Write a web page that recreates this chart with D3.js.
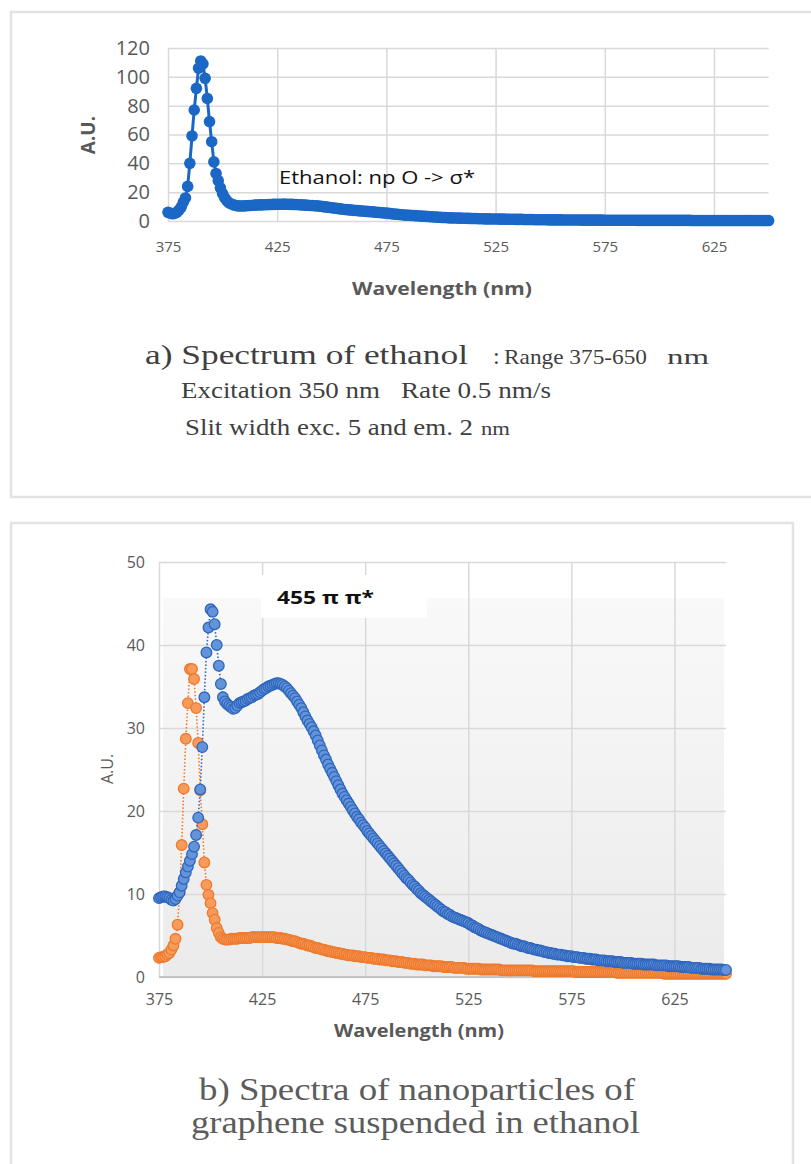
<!DOCTYPE html>
<html>
<head>
<meta charset="utf-8">
<script src="https://cdn.jsdelivr.net/npm/d3@7"></script>
<style>
  body { margin: 0; background: #fff; }
  svg { display: block; }
  .axis path { display: none; }
  .axis line { stroke: #d9d9d9; stroke-width: 1.5; }
  .axis text { font-family: "Open Sans", "DejaVu Sans", sans-serif; fill: #595959; }
</style>
</head>
<body>
<script>
// wavelength grid of the recorded spectra (1 nm step)
const wavelengths = d3.range(375, 651);

// a) ethanol, excitation 350 nm
const ethanolAU = [
  6.0, 5.5, 5.0, 5.2, 6.0, 7.5, 9.5, 13.0, 16.0, 24.0,
  40, 59, 77, 92, 106, 111, 109, 99, 85, 69,
  55, 41, 33, 28, 23, 19, 16, 14, 12.5, 11.8,
  11.2, 10.8, 10.5, 10.4, 10.4, 10.5, 10.6, 10.7, 10.8, 10.9,
  11.0, 11.1, 11.2, 11.2, 11.3, 11.3, 11.4, 11.4, 11.5, 11.5,
  11.6, 11.6, 11.6, 11.7, 11.6, 11.6, 11.5, 11.5, 11.4, 11.4,
  11.3, 11.2, 11.1, 11.0, 10.9, 10.8, 10.7, 10.6, 10.5, 10.4,
  10.2, 10.0, 9.8, 9.6, 9.4, 9.2, 9.0, 8.8, 8.6, 8.4,
  8.2, 8.0, 7.9, 7.7, 7.6, 7.4, 7.3, 7.2, 7.0, 6.9,
  6.8, 6.7, 6.5, 6.4, 6.3, 6.1, 6.0, 5.9, 5.7, 5.6,
  5.5, 5.3, 5.1, 4.9, 4.8, 4.6, 4.5, 4.3, 4.2, 4.1,
  4.0, 3.9, 3.8, 3.7, 3.6, 3.5, 3.4, 3.3, 3.2, 3.1,
  3.0, 2.9, 2.8, 2.7, 2.6, 2.5, 2.4, 2.4, 2.3, 2.2,
  2.2, 2.1, 2.1, 2.0, 2.0, 1.9, 1.9, 1.8, 1.8, 1.7,
  1.7, 1.7, 1.6, 1.6, 1.6, 1.5, 1.5, 1.5, 1.4, 1.4,
  1.4, 1.4, 1.3, 1.3, 1.3, 1.2, 1.2, 1.2, 1.2, 1.1,
  1.1, 1.1, 1.1, 1.0, 1.0, 1.0, 1.0, 1.0, 0.9, 0.9,
  0.9, 0.9, 0.9, 0.9, 0.8, 0.8, 0.8, 0.8, 0.8, 0.8,
  0.8, 0.7, 0.7, 0.7, 0.7, 0.7, 0.7, 0.7, 0.7, 0.6,
  0.6, 0.6, 0.6, 0.6, 0.6, 0.6, 0.6, 0.6, 0.6, 0.6,
  0.5, 0.5, 0.5, 0.5, 0.5, 0.5, 0.5, 0.5, 0.5, 0.5,
  0.5, 0.5, 0.5, 0.5, 0.5, 0.4, 0.4, 0.4, 0.4, 0.4,
  0.4, 0.4, 0.4, 0.4, 0.4, 0.4, 0.4, 0.4, 0.4, 0.4,
  0.4, 0.4, 0.4, 0.4, 0.4, 0.4, 0.4, 0.4, 0.4, 0.4,
  0.3, 0.3, 0.3, 0.3, 0.3, 0.3, 0.3, 0.3, 0.3, 0.3,
  0.3, 0.3, 0.3, 0.3, 0.3, 0.3, 0.3, 0.3, 0.3, 0.3,
  0.3, 0.3, 0.3, 0.3, 0.3, 0.3, 0.3, 0.3, 0.3, 0.3,
  0.3, 0.3, 0.3, 0.3, 0.3, 0.3
];

// b) graphene nanoparticles in ethanol, blue series
const grapheneBlueAU = [
  9.5, 9.6, 9.7, 9.7, 9.6, 9.5, 9.3, 9.2, 9.4, 9.8,
  10.2, 11.0, 11.8, 12.6, 13.3, 14.0, 14.8, 15.7, 17.1, 19.2,
  22.6, 27.7, 33.7, 39.1, 42.1, 44.3, 44.0, 42.5, 40.0, 37.5,
  35.3, 33.7, 33.2, 32.9, 32.7, 32.5, 32.3, 32.4, 32.7, 33.0,
  33.1, 33.2, 33.3, 33.5, 33.6, 33.7, 33.9, 34.0, 34.1, 34.3,
  34.5, 34.7, 34.8, 35.0, 35.1, 35.2, 35.3, 35.4, 35.4, 35.3,
  35.2, 35.0, 34.8, 34.5, 34.2, 33.9, 33.6, 33.2, 32.8, 32.4,
  31.9, 31.4, 30.9, 30.5, 30.1, 29.6, 29.1, 28.5, 27.9, 27.3,
  26.7, 26.2, 25.6, 25.1, 24.6, 24.1, 23.6, 23.1, 22.6, 22.1,
  21.7, 21.3, 20.9, 20.5, 20.1, 19.7, 19.3, 19.0, 18.6, 18.3,
  18.0, 17.6, 17.3, 17.0, 16.7, 16.4, 16.1, 15.8, 15.5, 15.2,
  14.9, 14.6, 14.3, 14.0, 13.7, 13.4, 13.1, 12.8, 12.5, 12.2,
  11.9, 11.7, 11.4, 11.1, 10.9, 10.6, 10.4, 10.1, 9.9, 9.7,
  9.5, 9.3, 9.1, 8.9, 8.7, 8.5, 8.3, 8.1, 7.9, 7.8,
  7.6, 7.5, 7.3, 7.2, 7.1, 7.0, 6.9, 6.8, 6.7, 6.6,
  6.5, 6.3, 6.2, 6.0, 5.9, 5.8, 5.6, 5.5, 5.4, 5.3,
  5.2, 5.1, 5.0, 4.9, 4.8, 4.7, 4.6, 4.5, 4.4, 4.3,
  4.2, 4.1, 4.0, 4.0, 3.9, 3.8, 3.7, 3.7, 3.6, 3.5,
  3.5, 3.4, 3.3, 3.3, 3.2, 3.2, 3.1, 3.0, 3.0, 2.9,
  2.9, 2.8, 2.8, 2.7, 2.7, 2.7, 2.6, 2.6, 2.5, 2.5,
  2.5, 2.4, 2.4, 2.4, 2.3, 2.3, 2.3, 2.2, 2.2, 2.2,
  2.1, 2.1, 2.1, 2.0, 2.0, 2.0, 2.0, 1.9, 1.9, 1.9,
  1.9, 1.8, 1.8, 1.8, 1.8, 1.7, 1.7, 1.7, 1.7, 1.7,
  1.6, 1.6, 1.6, 1.6, 1.6, 1.5, 1.5, 1.5, 1.5, 1.5,
  1.5, 1.4, 1.4, 1.4, 1.4, 1.4, 1.4, 1.3, 1.3, 1.3,
  1.3, 1.3, 1.3, 1.2, 1.2, 1.2, 1.2, 1.2, 1.1, 1.1,
  1.1, 1.1, 1.1, 1.0, 1.0, 1.0, 1.0, 1.0, 0.9, 0.9,
  0.9, 0.9, 0.9, 0.9, 0.85, 0.85
];

// b) orange series
const grapheneOrangeAU = [
  2.3, 2.4, 2.4, 2.5, 2.7, 2.9, 3.3, 3.8, 4.6, 6.3,
  10.2, 15.9, 22.7, 28.7, 33.0, 37.1, 37.1, 35.9, 32.4, 28.2,
  22.5, 18.4, 13.8, 11.1, 9.9, 8.9, 7.7, 6.9, 5.9, 5.3,
  4.8, 4.6, 4.5, 4.5, 4.5, 4.6, 4.6, 4.6, 4.6, 4.7,
  4.7, 4.7, 4.7, 4.7, 4.7, 4.8, 4.8, 4.8, 4.8, 4.8,
  4.8, 4.8, 4.8, 4.8, 4.8, 4.8, 4.8, 4.7, 4.7, 4.7,
  4.6, 4.6, 4.5, 4.5, 4.4, 4.3, 4.3, 4.2, 4.1, 4.0,
  4.0, 3.9, 3.8, 3.8, 3.7, 3.6, 3.5, 3.5, 3.4, 3.3,
  3.3, 3.2, 3.1, 3.1, 3.0, 3.0, 2.9, 2.9, 2.8, 2.8,
  2.7, 2.7, 2.6, 2.6, 2.6, 2.5, 2.5, 2.5, 2.4, 2.4,
  2.4, 2.3, 2.3, 2.3, 2.2, 2.2, 2.2, 2.1, 2.1, 2.1,
  2.0, 2.0, 2.0, 1.9, 1.9, 1.9, 1.8, 1.8, 1.8, 1.7,
  1.7, 1.7, 1.6, 1.6, 1.6, 1.5, 1.5, 1.5, 1.5, 1.4,
  1.4, 1.4, 1.4, 1.3, 1.3, 1.3, 1.3, 1.3, 1.2, 1.2,
  1.2, 1.2, 1.2, 1.1, 1.1, 1.1, 1.1, 1.1, 1.1, 1.0,
  1.0, 1.0, 1.0, 1.0, 1.0, 1.0, 0.9, 0.9, 0.9, 0.9,
  0.9, 0.9, 0.9, 0.9, 0.9, 0.9, 0.8, 0.8, 0.8, 0.8,
  0.8, 0.8, 0.8, 0.8, 0.8, 0.8, 0.8, 0.8, 0.8, 0.8,
  0.8, 0.8, 0.7, 0.7, 0.7, 0.7, 0.7, 0.7, 0.7, 0.7,
  0.7, 0.7, 0.7, 0.7, 0.7, 0.7, 0.7, 0.7, 0.7, 0.7,
  0.7, 0.7, 0.6, 0.6, 0.6, 0.6, 0.6, 0.6, 0.6, 0.6,
  0.6, 0.6, 0.6, 0.6, 0.6, 0.6, 0.6, 0.6, 0.6, 0.6,
  0.6, 0.6, 0.5, 0.5, 0.5, 0.5, 0.5, 0.5, 0.5, 0.5,
  0.5, 0.5, 0.5, 0.5, 0.5, 0.5, 0.5, 0.5, 0.5, 0.5,
  0.5, 0.5, 0.5, 0.5, 0.5, 0.4, 0.4, 0.4, 0.4, 0.4,
  0.4, 0.4, 0.4, 0.4, 0.4, 0.4, 0.4, 0.4, 0.4, 0.4,
  0.4, 0.4, 0.4, 0.4, 0.4, 0.4, 0.4, 0.4, 0.4, 0.4,
  0.4, 0.4, 0.4, 0.4, 0.4, 0.4
];

const xTicks = [375, 425, 475, 525, 575, 625];
const yTicksA = [0, 20, 40, 60, 80, 100, 120];
const yTicksB = [0, 10, 20, 30, 40, 50];

const svg = d3.select("body").append("svg")
  .attr("width", 811)
  .attr("height", 1164);

// panel frames
const frame = "#e2e2e2";
svg.append("path").attr("fill", "none").attr("stroke", frame).attr("stroke-width", 2.5)
  .attr("d", "M811,12 H11 V497 H811");
svg.append("path").attr("fill", "none").attr("stroke", frame).attr("stroke-width", 2.5)
  .attr("d", "M11,1164 V523 H793 V1164");

// ---------- panel a ----------
const xA = d3.scaleLinear().domain([375, 650]).range([168, 768.6]);
const yA = d3.scaleLinear().domain([0, 120]).range([221, 48]);

svg.append("g").attr("class", "axis")
  .attr("transform", "translate(168,0)")
  .call(d3.axisLeft(yA).tickValues(yTicksA).tickSize(-(768.6 - 168)).tickPadding(18))
  .call(g => g.selectAll("text").style("font-size", "20px"));

svg.append("g").attr("class", "axis")
  .attr("transform", "translate(0,221)")
  .call(d3.axisBottom(xA).tickValues(xTicks).tickSize(-(221 - 48)).tickPadding(20))
  .call(g => g.selectAll("text").style("font-size", "15px"));

const lineA = d3.line().x((d, i) => xA(wavelengths[i])).y(d => yA(d));
const blueA = "#1b67c6";
svg.append("path").datum(ethanolAU)
  .attr("fill", "none").attr("stroke", blueA).attr("stroke-width", 3)
  .attr("d", lineA);
svg.append("g").selectAll("circle").data(ethanolAU).join("circle")
  .attr("cx", (d, i) => xA(wavelengths[i]))
  .attr("cy", d => yA(d))
  .attr("r", 5.8)
  .attr("fill", blueA);

svg.append("text")
  .attr("transform", "translate(95,135) rotate(-90)")
  .attr("text-anchor", "middle")
  .style("font-family", "'Open Sans', sans-serif").style("font-weight", "bold")
  .style("font-size", "19px").style("fill", "#595959")
  .text("A.U.");
svg.append("text")
  .attr("x", 442).attr("y", 295).attr("text-anchor", "middle")
  .style("font-family", "'Open Sans', sans-serif").style("font-weight", "bold")
  .style("font-size", "18px").style("fill", "#595959")
  .attr("textLength", 180).attr("lengthAdjust", "spacingAndGlyphs")
  .text("Wavelength (nm)");
svg.append("text")
  .attr("x", 279).attr("y", 184)
  .style("font-family", "'Open Sans', sans-serif")
  .style("font-size", "19px").style("fill", "#111")
  .attr("textLength", 196).attr("lengthAdjust", "spacingAndGlyphs")
  .text("Ethanol: np O -> σ*");

// caption a
const capA = "#3f3f3f";
const serif = "'Liberation Serif', 'Times New Roman', Times, serif";
function cap(x, y, size, len, str, color) {
  svg.append("text")
    .attr("x", x).attr("y", y)
    .style("font-family", serif)
    .style("font-size", size + "px").style("fill", color)
    .attr("textLength", len).attr("lengthAdjust", "spacingAndGlyphs")
    .text(str);
}
cap(145, 364, 28, 323, "a) Spectrum of ethanol", capA);
svg.append("text").attr("x", 493).attr("y", 364)
  .style("font-family", serif)
  .style("font-size", "24px").style("fill", capA).text(":");
cap(504, 364, 21, 143, "Range 375-650", capA);
cap(667, 364, 21, 42, "nm", capA);
cap(181, 398, 23, 199, "Excitation 350 nm", capA);
cap(401, 398, 23, 150, "Rate 0.5 nm/s", capA);
cap(185, 435, 23, 288, "Slit width exc. 5 and em. 2", capA);
cap(481, 435, 18, 29, "nm", capA);

// ---------- panel b ----------
const xB = d3.scaleLinear().domain([375, 650]).range([159, 726]);
const yB = d3.scaleLinear().domain([0, 50]).range([977, 562]);

const grad = svg.append("defs").append("linearGradient")
  .attr("id", "bandFill").attr("x1", 0).attr("y1", 0).attr("x2", 0).attr("y2", 1);
grad.append("stop").attr("offset", "0%").attr("stop-color", "#f9f9f9");
grad.append("stop").attr("offset", "100%").attr("stop-color", "#ebebeb");
svg.append("rect")
  .attr("x", 163).attr("y", 598).attr("width", 561).attr("height", 977 - 598)
  .attr("fill", "url(#bandFill)");

svg.append("g").attr("class", "axis")
  .attr("transform", "translate(159,0)")
  .call(d3.axisLeft(yB).tickValues(yTicksB).tickSize(-(726 - 159)).tickPadding(14))
  .call(g => g.selectAll("text").style("font-size", "16px"));

svg.append("g").attr("class", "axis")
  .attr("transform", "translate(0,977)")
  .call(d3.axisBottom(xB).tickValues(xTicks).tickSize(-(977 - 562)).tickPadding(17))
  .call(g => g.selectAll("text").style("font-size", "16px"));

svg.append("line")
  .attr("x1", xB(375)).attr("x2", xB(650)).attr("y1", yB(0)).attr("y2", yB(0))
  .attr("stroke", "#c4c4c4").attr("stroke-width", 2);

// annotation box
svg.append("rect").attr("x", 261).attr("y", 575).attr("width", 166).attr("height", 43)
  .attr("fill", "#fff");
svg.append("text")
  .attr("x", 277).attr("y", 604)
  .style("font-family", "'Open Sans', sans-serif").style("font-weight", "bold")
  .style("font-size", "18px").style("fill", "#111")
  .attr("textLength", 97).attr("lengthAdjust", "spacingAndGlyphs")
  .text("455 π  π*");

const lineB = d3.line().x((d, i) => xB(wavelengths[i])).y(d => yB(d));
const seriesB = [
  { values: grapheneOrangeAU, fill: "#f79b5c", stroke: "#ee7a2c" },
  { values: grapheneBlueAU, fill: "#6394da", stroke: "#2f66bd" }
];
seriesB.forEach(s => {
  svg.append("path").datum(s.values)
    .attr("fill", "none").attr("stroke", s.stroke).attr("stroke-width", 1.6)
    .attr("stroke-dasharray", "1.5,2")
    .attr("d", lineB);
  svg.append("g").selectAll("circle").data(s.values).join("circle")
    .attr("cx", (d, i) => xB(wavelengths[i]))
    .attr("cy", d => yB(d))
    .attr("r", 5.3)
    .attr("fill", s.fill)
    .attr("stroke", s.stroke)
    .attr("stroke-width", 1.3);
});

svg.append("text")
  .attr("transform", "translate(113,769) rotate(-90)")
  .attr("text-anchor", "middle")
  .style("font-family", "'Open Sans', sans-serif")
  .style("font-size", "16px").style("fill", "#595959")
  .text("A.U.");
svg.append("text")
  .attr("x", 419).attr("y", 1037).attr("text-anchor", "middle")
  .style("font-family", "'Open Sans', sans-serif").style("font-weight", "bold")
  .style("font-size", "17px").style("fill", "#595959")
  .attr("textLength", 170).attr("lengthAdjust", "spacingAndGlyphs")
  .text("Wavelength (nm)");

const capB = "#5c5c5c";
cap(199, 1100, 31, 436, "b) Spectra of nanoparticles of", capB);
cap(191, 1133, 31, 449, "graphene suspended in ethanol", capB);
</script>
</body>
</html>
